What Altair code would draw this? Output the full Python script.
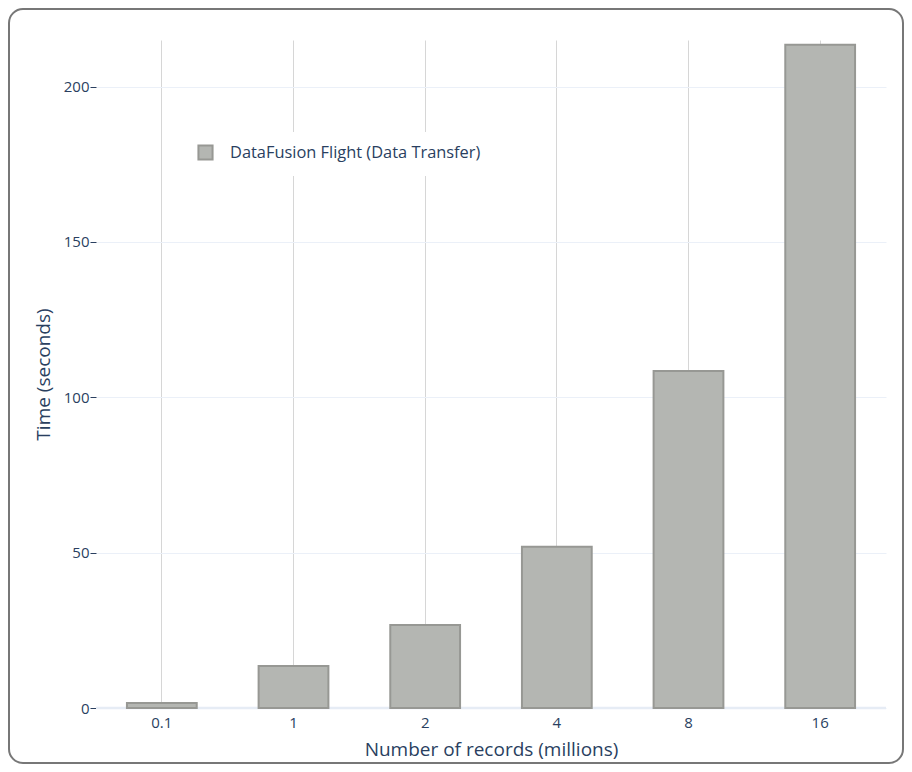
import altair as alt
import pandas as pd

records = ["0.1", "1", "2", "4", "8", "16"]
times = [1.6, 13.5, 26.7, 51.9, 108.5, 213.5]
series_name = "DataFusion Flight (Data Transfer)"
y_ticks = [0, 50, 100, 150, 200]

df = pd.DataFrame({"records": records, "time": times, "series": [series_name] * len(records)})

TEXT = "#2a3f5f"
FILL = "#b4b6b2"
STROKE = "#979894"

W, H = 790, 668
PL, PT, PR, PB = 88, 32, 18, 56

bars = alt.Chart(df).mark_bar(stroke=STROKE, strokeWidth=2).encode(
    x=alt.X("records:N", sort=records,
            scale=alt.Scale(paddingInner=0.47, paddingOuter=0.235),
            axis=alt.Axis(title="Number of records (millions)", labelAngle=0, ticks=False,
                          domain=False, grid=True, gridColor="#d6d6d6", bandPosition=0.5,
                          labelPadding=7, titlePadding=10, labelFontSize=15)),
    y=alt.Y("time:Q", scale=alt.Scale(domain=[0, 215], nice=False, zero=True),
            axis=alt.Axis(title="Time (seconds)", values=y_ticks, domain=False,
                          tickColor=TEXT, tickSize=6, labelPadding=1, labelFontSize=15,
                          gridColor="#ebf0f8", titlePadding=10)),
    color=alt.Color("series:N", scale=alt.Scale(domain=[series_name], range=[FILL]),
                    legend=alt.Legend(title=None, orient="none", legendX=89, legendY=92,
                                      fillColor="white", padding=12, symbolType="square",
                                      symbolSize=200, symbolStrokeColor=STROKE,
                                      symbolStrokeWidth=2, symbolOpacity=1,
                                      labelFontSize=16.4, labelColor=TEXT, labelOffset=16,
                                      labelLimit=0, labelFont="Open Sans")),
)

zero = alt.Chart(alt.Data(values=[{"v": 0}])).mark_rule(color="#e6ecf5", strokeWidth=2.5).encode(
    y="v:Q"
)

border = alt.Chart(alt.Data(values=[{}])).mark_rect(
    fill=None, fillOpacity=0, stroke="#777777", strokeWidth=2, cornerRadius=14
).encode(
    x=alt.value(-PL + 1), x2=alt.value(W + PR - 1),
    y=alt.value(-PT + 1), y2=alt.value(H + PB - 1),
)

chart = alt.layer(zero, bars, border).properties(
    width=W, height=H,
    autosize=alt.AutoSizeParams(type="none"),
    padding={"left": PL, "top": PT, "right": PR, "bottom": PB},
).configure(font="Open Sans").configure_view(stroke=None).configure_axis(
    labelFont="Open Sans", labelColor=TEXT,
    titleFont="Open Sans", titleFontSize=19, titleColor=TEXT, titleFontWeight="normal",
)

chart.save("out.html", embed_options={"renderer": "svg", "actions": False})
